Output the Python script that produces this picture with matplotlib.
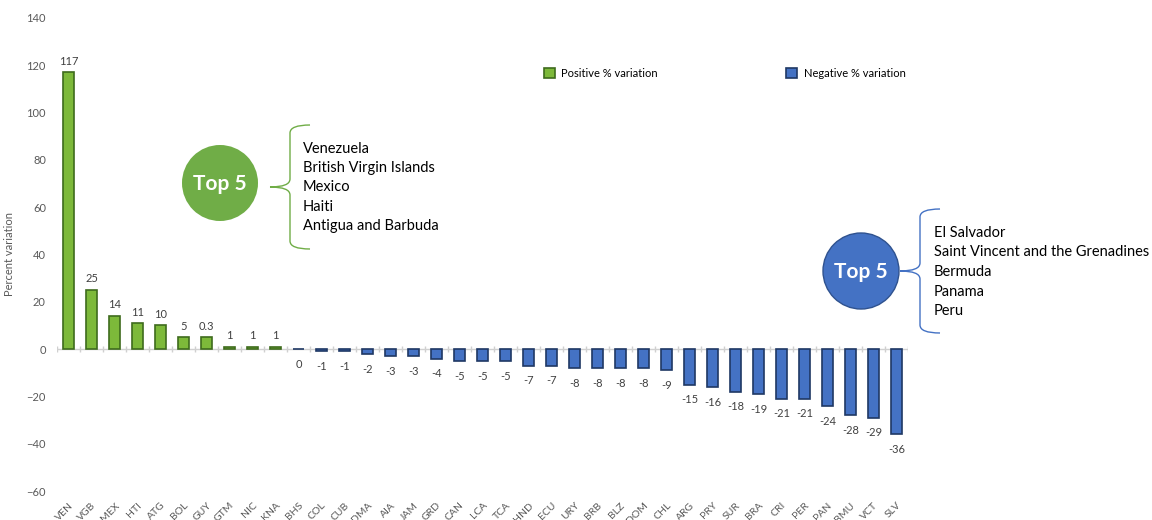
import matplotlib.pyplot as plt
from matplotlib.patches import Circle
from matplotlib.path import Path
from matplotlib.patches import PathPatch

plt.rcParams["font.family"] = ["Lato", "DejaVu Sans"]

countries = ["VEN", "VGB", "MEX", "HTI", "ATG", "BOL", "GUY", "GTM", "NIC", "KNA",
             "BHS", "COL", "CUB", "DMA", "AIA", "JAM", "GRD", "CAN", "LCA", "TCA",
             "HND", "ECU", "URY", "BRB", "BLZ", "DOM", "CHL", "ARG", "PRY", "SUR",
             "BRA", "CRI", "PER", "PAN", "BMU", "VCT", "SLV"]
values = [117, 25, 14, 11, 10, 5, 5, 1, 1, 1,
          0, -1, -1, -2, -3, -3, -4, -5, -5, -5,
          -7, -7, -8, -8, -8, -8, -9, -15, -16, -18,
          -19, -21, -21, -24, -28, -29, -36]
value_labels = ["117", "25", "14", "11", "10", "5", "0.3", "1", "1", "1",
                "0", "-1", "-1", "-2", "-3", "-3", "-4", "-5", "-5", "-5",
                "-7", "-7", "-8", "-8", "-8", "-8", "-9", "-15", "-16", "-18",
                "-19", "-21", "-21", "-24", "-28", "-29", "-36"]
top_positive = ["Venezuela", "British Virgin Islands", "Mexico", "Haiti",
                "Antigua and Barbuda"]
top_negative = ["El Salvador", "Saint Vincent and the Grenadines", "Bermuda",
                "Panama", "Peru"]

GREEN = "#7DB93A"
GREEN_EDGE = "#3E6B1D"
BLUE = "#4472C4"
BLUE_EDGE = "#1F3864"
TXT = "#595959"

fig = plt.figure(figsize=(11.52, 5.2), dpi=100)
ax = fig.add_axes([57 / 1152, 1 - 491 / 520, (908 - 57) / 1152, (491 - 18) / 520])

x = list(range(len(countries)))
pos_x = [i for i, v in zip(x, values) if v > 0]
pos_v = [v for v in values if v > 0]
neg_x = [i for i, v in zip(x, values) if v <= 0]
neg_v = [v for v in values if v <= 0]

ax.bar(pos_x, pos_v, width=0.52, color=GREEN, edgecolor=GREEN_EDGE, linewidth=1.2,
       label="Positive % variation", zorder=3)
ax.bar(neg_x, neg_v, width=0.52, color=BLUE, edgecolor=BLUE_EDGE, linewidth=1.2,
       label="Negative % variation", zorder=3)

for i, v, lab in zip(x, values, value_labels):
    if v > 0:
        ax.annotate(lab, (i, v), xytext=(0, 4), textcoords="offset points",
                    ha="center", va="bottom", fontsize=8, color="#404040")
    else:
        ax.annotate(lab, (i, v), xytext=(0, -7), textcoords="offset points",
                    ha="center", va="top", fontsize=8, color="#404040")

ax.set_xlim(-0.5, len(countries) - 0.5)
ax.set_ylim(-60, 140)
ax.set_yticks(range(-60, 141, 20))
ax.tick_params(axis="y", length=0, labelsize=8, labelcolor=TXT, pad=8)
ax.set_xticks(x)
ax.set_xticklabels(countries, rotation=45, ha="right", rotation_mode="anchor",
                   fontsize=7.5, color=TXT)
ax.tick_params(axis="x", length=0, pad=7)
for s in ax.spines.values():
    s.set_visible(False)

# zero axis line with category separators
ax.axhline(0, color="#D0D0D0", linewidth=1, zorder=2)
ax.vlines([i - 0.5 for i in x] + [len(x) - 0.5], -1.2, 1.2, color="#D0D0D0",
          linewidth=1, zorder=2)

ax.set_ylabel("Percent variation", fontsize=8, color=TXT, labelpad=8)

ax.legend(loc="upper left", bbox_to_anchor=(0.56, 0.915), ncol=2, frameon=False,
          fontsize=8, handlelength=1.0, handleheight=1.0, columnspacing=11.5,
          handletextpad=0.6)

# annotation overlay in pixel coordinates
ov = fig.add_axes([0, 0, 1, 1])
ov.set_xlim(0, 1152)
ov.set_ylim(520, 0)
ov.axis("off")
ov.patch.set_alpha(0)


def brace(x0, ytop, ybot, color):
    ym = (ytop + ybot) / 2
    verts = [(x0 + 20, ytop), (x0, ytop), (x0, ytop + 8),
             (x0, ym - 8), (x0, ym), (x0 - 20, ym),
             (x0, ym), (x0, ym + 8),
             (x0, ybot - 8), (x0, ybot), (x0 + 20, ybot)]
    codes = [Path.MOVETO, Path.CURVE3, Path.CURVE3,
             Path.LINETO, Path.CURVE3, Path.CURVE3,
             Path.CURVE3, Path.CURVE3,
             Path.LINETO, Path.CURVE3, Path.CURVE3]
    ov.add_patch(PathPatch(Path(verts, codes), fill=False, edgecolor=color, linewidth=1))


ov.add_patch(Circle((220, 183), 38, facecolor="#70AD47", edgecolor="none"))
ov.text(220, 184, "Top 5", ha="center", va="center", color="white",
        fontsize=15, fontweight="bold")
brace(290, 125, 249, "#70AD47")
for k, name in enumerate(top_positive):
    ov.text(303, 149 + k * 19.2, name, ha="left", va="center", fontsize=10.5, color="black")

ov.add_patch(Circle((861, 271), 38, facecolor="#4472C4", edgecolor="#2F528F", linewidth=1))
ov.text(861, 272, "Top 5", ha="center", va="center", color="white",
        fontsize=15, fontweight="bold")
brace(920, 209, 333, "#4472C4")
for k, name in enumerate(top_negative):
    ov.text(934, 233 + k * 19.5, name, ha="left", va="center", fontsize=10.5, color="black")

fig.savefig("out.png", dpi=100)
